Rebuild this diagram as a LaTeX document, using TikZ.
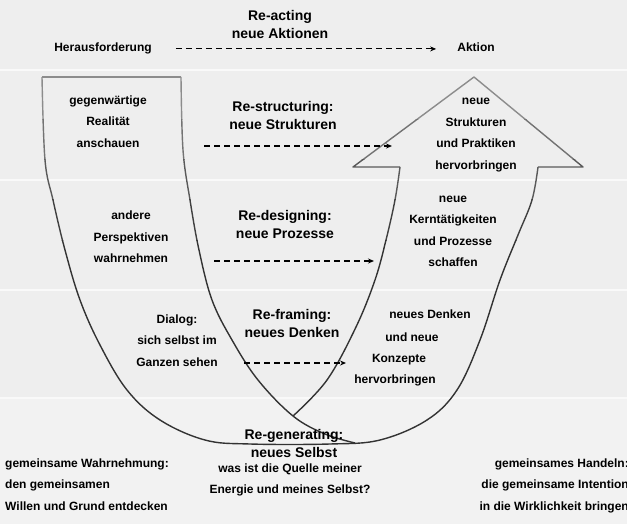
\documentclass[tikz,border=0pt]{standalone}
\usepackage{fontspec}
\setmainfont{Liberation Sans}
\usetikzlibrary{arrows.meta}
%
\definecolor{hgrund}{HTML}{EEEEEE}
\definecolor{hgrundunten}{HTML}{F2F2F2}
\definecolor{trenner}{HTML}{F9F9F9}
%
% U-Form (Schwanz links, Pfeilspitze rechts)
\newcommand{\uform}[1]{%
  \draw[kontur, #1] (42,77) -- (181,77);
  \draw[kontur, #1] plot[smooth, tension=.6] coordinates {(42,77) (45,160) (53,200) (65,250) (80,300) (100,345) (127,390) (160,420) (205,440) (250,444) (330,444) (380,440) (427,420) (457,390) (480,340) (500,280) (518,235) (532,200) (538,167)};
  \draw[kontur, #1] plot[smooth, tension=.6] coordinates {(181,77) (183,150) (190,200) (199,250) (212,300) (232,340) (258,380) (293,416) (325,434) (355,443)};
  \draw[kontur, #1] plot[smooth, tension=.6] coordinates {(400,167) (395,200) (386,240) (375,280) (356,327) (327,380) (293,416)};
  \draw[kontur, #1] (400,167) -- (353,167) -- (474,77) -- (583,167) -- (538,167);
}
%
\begin{document}
\begin{tikzpicture}[
	x=1pt, y=-1pt,% Pixelkoordinaten, base = letzte Zeile
	txt/.style={font=\bfseries\fontsize{12}{21.5}\selectfont, align=center, anchor=base, inner sep=0pt},
	titel/.style={font=\bfseries\fontsize{14}{18}\selectfont, align=center, anchor=base, inner sep=0pt},
	pfeil/.style={line width=1.1pt, dash pattern=on 6pt off 4pt, -{Stealth[length=6pt,width=5pt]}},
	kontur/.style={line width=1.4pt, line join=round}
]
\useasboundingbox (0,0) rectangle (627,524);
\clip (0,0) rectangle (627,524);
%
% Hintergrund mit Baendern
\fill[hgrund] (0,0) rectangle (627,524);
\fill[hgrundunten] (0,398) rectangle (627,524);
\foreach \y in {70,180,290,398}
  \draw[trenner, line width=1.5pt] (0,\y) -- (627,\y);
%
% U-Form, oben heller als unten
\foreach \oben/\unten/\anteil in {0/120/45, 120/160/55, 160/200/65, 200/240/75, 240/524/80}{
  \begin{scope}
    \clip (0,\oben) rectangle (627,\unten);
    \uform{black!\anteil}
  \end{scope}
}
%
% Re-acting
\node[titel] (reacting) at (280,38.5) {Re-acting\\neue Aktionen};
\node[txt] (herausf) at (103,52) {Herausforderung};
\node[txt] (aktion) at (476,52) {Aktion};
\draw[pfeil, shorten <=24pt, shorten >=21pt] (herausf.east) -- (herausf.east -| aktion.west);
%
% Re-structuring
\node[txt] (realitaet) at (108,147.5) {gegenwärtige\\Realität\\anschauen};
\node[titel] (restruct) at (283,130) {Re-structuring:\\neue Strukturen};
\node[txt] (strukturen) at (476,169.5) {neue\\Strukturen\\und Praktiken\\hervorbringen};
\coordinate (p2a) at (204,146);
\coordinate (p2b) at (392,146);
\draw[pfeil] (p2a) -- (p2b);
%
% Re-designing
\node[txt] (perspektiven) at (131,262.5) {andere\\Perspektiven\\wahrnehmen};
\node[titel] (redesign) at (285,239) {Re-designing:\\neue Prozesse};
\node[txt] (prozesse) at (453,266.5) {neue\\Kerntätigkeiten\\und Prozesse\\schaffen};
\coordinate (p3a) at (214,261);
\coordinate (p3b) at (374,261);
\draw[pfeil] (p3a) -- (p3b);
%
% Re-framing
\node[txt] (dialog) at (177,366) {Dialog:\\sich selbst im\\Ganzen sehen};
\node[titel] (reframe) at (292,337) {Re-framing:\\neues Denken};
\node[txt] (denken1) at (430,318) {neues Denken};
\node[txt] (denken2) at (412,341) {und neue};
\node[txt] (denken3) at (399,362) {Konzepte};
\node[txt] (denken4) at (395,383) {hervorbringen};
\coordinate (p4a) at (244,363);
\coordinate (p4b) at (346,363);
\draw[pfeil] (p4a) -- (p4b);
%
% Re-generating
\node[titel] (regen) at (294,457) {Re-generating:\\neues Selbst};
\node[txt] (quelle) at (290,493.5) {was ist die Quelle meiner\\Energie und meines Selbst?};
\node[txt, align=left, anchor=base west] (wahrnehmung) at (5,510) {gemeinsame Wahrnehmung:\\den gemeinsamen\\Willen und Grund entdecken};
\node[txt, align=right, anchor=base east] (handeln) at (629,510) {gemeinsames Handeln:\\die gemeinsame Intention\\in die Wirklichkeit bringen};
%
\end{tikzpicture}
\end{document}
